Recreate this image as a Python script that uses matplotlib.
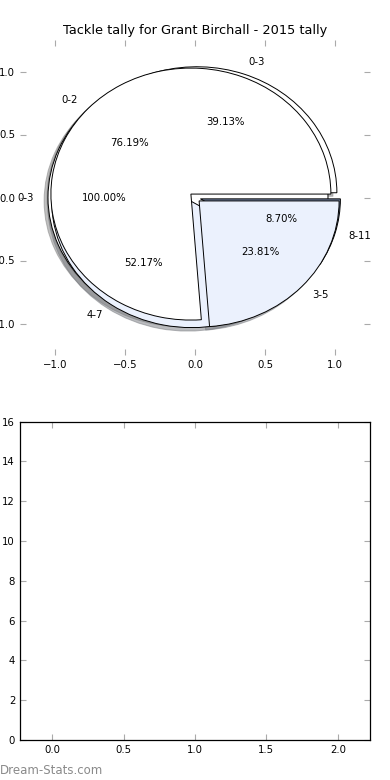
import matplotlib
matplotlib.use('Agg')
import matplotlib.pyplot as plt

title = "Tackle tally for Grant Birchall - 2015 tally"

# three pie layers drawn on the same axes (drawing order: C, A, B)
labels_c = ['0-3']
values_c = [1]
labels_a = ['0-3', '4-7', '8-11']
values_a = [9, 12, 2]
labels_b = ['0-2', '3-5']
values_b = [16, 5]

pie_ticks = [-1.0, -0.5, 0.0, 0.5, 1.0]
bar_xticks = [0.0, 0.5, 1.0, 1.5, 2.0]
bar_yticks = [0, 2, 4, 6, 8, 10, 12, 14, 16]

colors = ['white', '#ebf1fd', '#7282a0']
FS = 7.3

fig = plt.figure(figsize=(3.9, 7.8), dpi=100)
ax1 = fig.add_axes([20/390, 1 - 355/780, 350/390, 315/780])
ax2 = fig.add_axes([20/390, 40/780, 350/390, 318.5/780])

kw = dict(autopct='%1.2f%%', startangle=0,
          shadow={'ox': -0.02, 'oy': -0.02, 'shade': 0.5},
          wedgeprops=dict(edgecolor='black', linewidth=0.7),
          textprops=dict(fontsize=FS))
ax1.pie(values_c, labels=labels_c, explode=[0.05], colors=colors[:1], **kw)
ax1.pie(values_a, labels=labels_a, explode=[0.04] * 3, colors=colors, **kw)
ax1.pie(values_b, labels=labels_b, explode=[0.04] * 2, colors=colors[:2], **kw)

ax1.set_aspect('auto')
ax1.set_frame_on(False)
ax1.set_xticks(pie_ticks)
ax1.set_yticks(pie_ticks)
ax1.set_xlim(-1.25, 1.25)
ax1.set_ylim(-1.25, 1.25)
ax1.set_title(title, fontsize=9.3, pad=4)

ax2.set_xlim(-0.225, 2.225)
ax2.set_ylim(0, 16)
ax2.set_xticks(bar_xticks)
ax2.set_yticks(bar_yticks)
for s in ax2.spines.values():
    s.set_linewidth(0.9)

for ax in (ax1, ax2):
    ax.tick_params(direction='in', length=4, width=0.8, color='#aaaaaa',
                   top=True, right=True, labelsize=FS, pad=3.5)

fig.text(0.0, 1 - 770/780, 'Dream-Stats.com', fontsize=8.5, color='#8a8a8a',
         ha='left', va='center')

fig.savefig('out.png', dpi=100)
